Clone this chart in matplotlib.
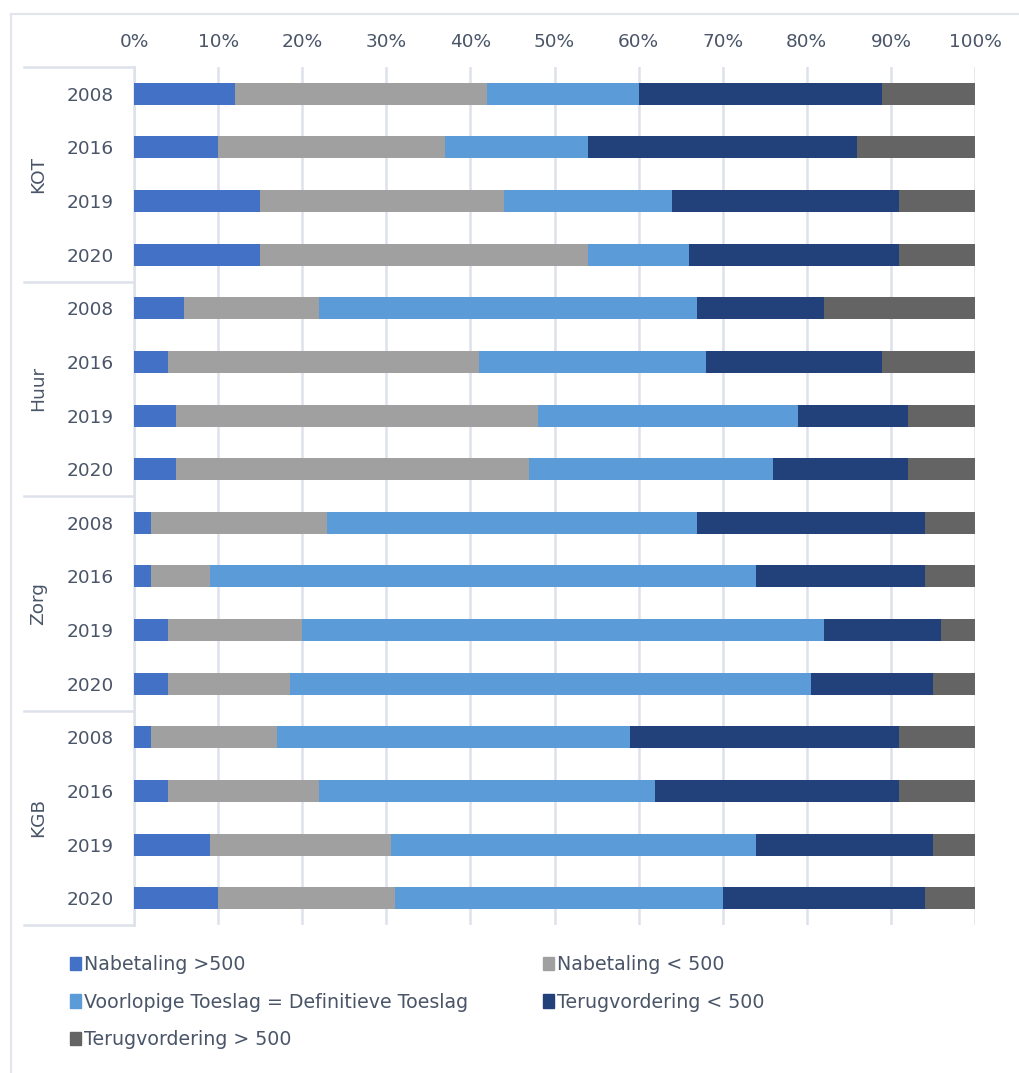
import numpy as np
import matplotlib
matplotlib.use('Agg')
import matplotlib.pyplot as plt
from matplotlib.transforms import blended_transform_factory
from matplotlib.lines import Line2D
from matplotlib.patches import Patch

# data (percentages per row)
groups = ['KOT', 'Huur', 'Zorg', 'KGB']
years = ['2008', '2016', '2019', '2020']
series = ['Nabetaling >500', 'Nabetaling < 500',
          'Voorlopige Toeslag = Definitieve Toeslag',
          'Terugvordering < 500', 'Terugvordering > 500']

nabetaling_hoog = [12, 10, 15, 15, 6, 4, 5, 5, 2, 2, 4, 4, 2, 4, 9, 10]
nabetaling_laag = [30, 27, 29, 39, 16, 37, 43, 42, 21, 7, 16, 14.5, 15, 18, 21.5, 21]
gelijk = [18, 17, 20, 12, 45, 27, 31, 29, 44, 65, 62, 62, 42, 40, 43.5, 39]
terug_laag = [29, 32, 27, 25, 15, 21, 13, 16, 27, 20, 14, 14.5, 32, 29, 21, 24]
terug_hoog = [11, 14, 9, 9, 18, 11, 8, 8, 6, 6, 4, 5, 9, 9, 5, 6]

colors = ['#4371C6', '#A0A0A0', '#5A9BD8', '#22407A', '#646464']
text_col = '#4A5568'
grid_col = '#DDE1E9'

plt.rcParams['font.family'] = 'DejaVu Sans'
plt.rcParams['font.size'] = 13

W, H = 1020, 1073
fig = plt.figure(figsize=(W / 100, H / 100), dpi=100)
ax = fig.add_axes([134 / W, 1 - 925 / H, (975 - 134) / W, (925 - 67) / H])

values = [nabetaling_hoog, nabetaling_laag, gelijk, terug_laag, terug_hoog]
n = len(nabetaling_hoog)
ypos = np.arange(n)
left = np.zeros(n)
for vals, col, name in zip(values, colors, series):
    vals = np.array(vals, dtype=float)
    ax.barh(ypos, vals, left=left, height=0.41, color=col, label=name, zorder=3)
    left += vals

ax.set_xlim(0, 100)
ax.set_ylim(n - 0.5, -0.5)
ax.set_xticks(np.arange(0, 101, 10))
ax.set_xticklabels([f'{v}%' for v in range(0, 101, 10)])
ax.xaxis.tick_top()
ax.tick_params(axis='x', length=0, pad=11.5, colors=text_col, labelsize=13.3)
ax.set_yticks(ypos)
ax.set_yticklabels(years * len(groups))
ax.tick_params(axis='y', length=0, pad=14.5, colors=text_col, labelsize=13.3)
ax.grid(axis='x', color=grid_col, linewidth=1.8, zorder=0)
for s in ['top', 'right', 'bottom']:
    ax.spines[s].set_visible(False)
ax.spines['left'].set_color(grid_col)
ax.spines['left'].set_linewidth(1.8)

# group labels and separators
trans = blended_transform_factory(fig.transFigure, ax.transData)
for i, g in enumerate(groups):
    ax.text(38 / W, i * 4 + 1.5, g, transform=trans, rotation=90,
            ha='center', va='center', color=text_col, fontsize=13.3)
for i in range(len(groups) + 1):
    ax.add_line(Line2D([24 / W, 134 / W], [i * 4 - 0.5] * 2, transform=trans,
                       color=grid_col, linewidth=1.8, clip_on=False))

# outer chart border
fig.add_artist(Line2D([11 / W, 11 / W], [0, 1 - 14 / H], transform=fig.transFigure,
                      color='#E2E5EC', linewidth=1.5))
fig.add_artist(Line2D([11 / W, 1], [1 - 14 / H] * 2, transform=fig.transFigure,
                      color='#E2E5EC', linewidth=1.5))

# legend in two columns
handles = [Patch(color=c) for c in colors]
kw = dict(frameon=False, loc='upper left', borderpad=0, borderaxespad=0,
          handlelength=0.6, handleheight=0.7, handletextpad=0.15,
          labelspacing=0.98, fontsize=13.7, labelcolor=text_col)
fig.legend([handles[0], handles[2], handles[4]], [series[0], series[2], series[4]],
           bbox_to_anchor=(70 / W, 1 - 955 / H), **kw)
fig.legend([handles[1], handles[3]], [series[1], series[3]],
           bbox_to_anchor=(543 / W, 1 - 955 / H), **kw)

plt.savefig('out.png', dpi=100)
